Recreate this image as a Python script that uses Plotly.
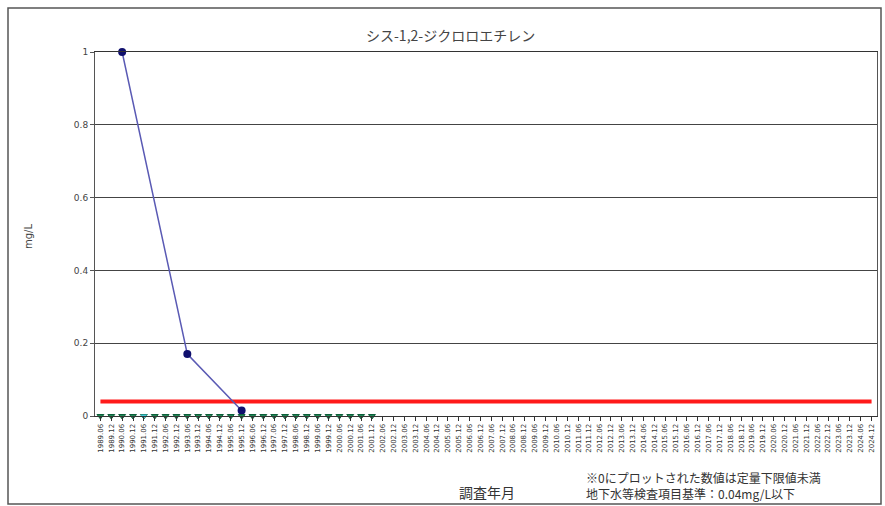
import plotly.graph_objects as go

# Survey dates (categories), twice a year
dates = [
    "1989.06","1989.12","1990.06","1990.12","1991.06","1991.12","1992.06","1992.12",
    "1993.06","1993.12","1994.06","1994.12","1995.06","1995.12","1996.06","1996.12",
    "1997.06","1997.12","1998.06","1998.12","1999.06","1999.12","2000.06","2000.12",
    "2001.06","2001.12","2002.06","2002.12","2003.06","2003.12","2004.06","2004.12",
    "2005.06","2005.12","2006.06","2006.12","2007.06","2007.12","2008.06","2008.12",
    "2009.06","2009.12","2010.06","2010.12","2011.06","2011.12","2012.06","2012.12",
    "2013.06","2013.12","2014.06","2014.12","2015.06","2015.12","2016.06","2016.12",
    "2017.06","2017.12","2018.06","2018.12","2019.06","2019.12","2020.06","2020.12",
    "2021.06","2021.12","2022.06","2022.12","2023.06","2023.12","2024.06","2024.12",
]

# Main well (detected values)
well_a_dates = ["1990.06", "1993.06", "1995.12"]
well_a_vals = [1.0, 0.17, 0.015]

# Other wells: below quantification limit, plotted at 0
well_b_dates = dates[0:26]
well_b_vals = [0] * 26
well_c_dates = ["1991.06"]
well_c_vals = [0]

# Groundwater standard
standard_val = 0.04

title_text = "シス-1,2-ジクロロエチレン"
y_title = "mg/L"
x_title = "調査年月"
note_line1 = "※0にプロットされた数値は定量下限値未満"
note_line2 = "地下水等検査項目基準：0.04mg/L以下"

JP = "Noto Sans CJK JP"

fig = go.Figure()

fig.add_trace(go.Scatter(
    x=dates, y=[standard_val] * len(dates), mode="lines",
    line=dict(color="#ff1a1a", width=4), showlegend=False, hoverinfo="skip",
))
fig.add_trace(go.Scatter(
    x=well_a_dates, y=well_a_vals, mode="lines+markers",
    line=dict(color="#5a5ab4", width=1.5),
    marker=dict(color="#10106e", size=8, symbol="circle"),
    showlegend=False, cliponaxis=False,
))
fig.add_trace(go.Scatter(
    x=well_b_dates, y=well_b_vals, mode="markers",
    marker=dict(color="#1f8a55", size=6, symbol="triangle-down",
                line=dict(color="#0d5e3a", width=1)),
    showlegend=False, cliponaxis=False,
))
fig.add_trace(go.Scatter(
    x=well_c_dates, y=well_c_vals, mode="markers",
    marker=dict(color="#40c8d8", size=6, symbol="triangle-down"),
    showlegend=False, cliponaxis=False,
))

PL, PR, PT, PB = 95, 877, 52, 416
PW, PH = PR - PL, PB - PT


def px(x):
    return (x - PL) / PW


def py(y):
    return (PB - y) / PH


fig.update_layout(
    width=885, height=506,
    margin=dict(l=PL, r=885 - PR, t=PT, b=506 - PB),
    paper_bgcolor="white", plot_bgcolor="white",
    font=dict(family=JP, color="#333333"),
    xaxis=dict(
        type="category", categoryorder="array", categoryarray=dates,
        range=[-0.5, len(dates) - 0.5],
        showgrid=False, showline=True, linecolor="#333333", linewidth=1,
        mirror=True, ticks="outside", ticklen=4, tickcolor="#333333",
        tickangle=-90, tickfont=dict(size=7, color="#333333", family="DejaVu Sans"),
    ),
    yaxis=dict(
        range=[0, 1], tickvals=[0, 0.2, 0.4, 0.6, 0.8, 1],
        ticktext=["0", "0.2", "0.4", "0.6", "0.8", "1"],
        showgrid=True, gridcolor="#444444", gridwidth=1,
        showline=True, linecolor="#555555", linewidth=1, mirror=True,
        ticks="outside", ticklen=4, tickcolor="#555555",
        tickfont=dict(size=9, color="#444444", family="DejaVu Sans"),
        zeroline=False,
    ),
    shapes=[dict(
        type="rect", xref="paper", yref="paper",
        x0=px(8), x1=px(881), y0=py(504), y1=py(8),
        line=dict(color="#555555", width=1.5), fillcolor="rgba(0,0,0,0)", layer="below",
    )],
    annotations=[
        dict(text=title_text, xref="paper", yref="paper",
             x=px(450), y=py(35), showarrow=False,
             font=dict(size=14, color="#444444", family=JP), xanchor="center", yanchor="middle"),
        dict(text=y_title, xref="paper", yref="paper",
             x=px(28), y=py(237), showarrow=False, textangle=-90,
             font=dict(size=10, color="#444444", family="DejaVu Sans"), xanchor="center", yanchor="middle"),
        dict(text=x_title, xref="paper", yref="paper",
             x=px(487), y=py(492), showarrow=False,
             font=dict(size=14, color="#333333", family=JP), xanchor="center", yanchor="middle"),
        dict(text=note_line1, xref="paper", yref="paper",
             x=px(584), y=py(477), showarrow=False, align="left",
             font=dict(size=12, color="#333333", family=JP), xanchor="left", yanchor="middle"),
        dict(text=note_line2, xref="paper", yref="paper",
             x=px(584), y=py(494), showarrow=False, align="left",
             font=dict(size=12, color="#333333", family=JP), xanchor="left", yanchor="middle"),
    ],
)

fig.write_html(
    "out.html",
    config={"displayModeBar": False},
    post_script="document.body.style.margin='0';document.body.style.overflow='hidden';",
)
